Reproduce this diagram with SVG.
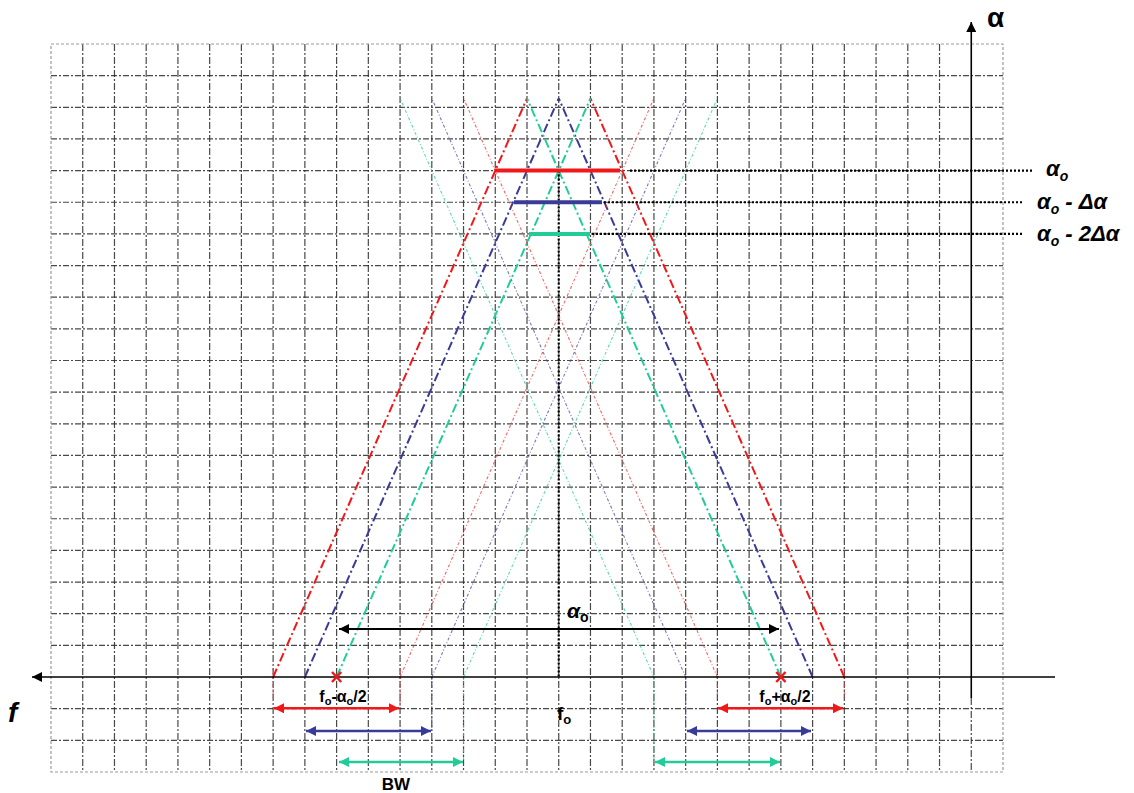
<svg xmlns="http://www.w3.org/2000/svg" width="1134" height="793" viewBox="0 0 1134 793">
<style>
.vg{stroke:#2a2a2a;stroke-width:1.2;stroke-dasharray:7 2 2 2;opacity:.85}
.hg{stroke:#2a2a2a;stroke-width:1.2;stroke-dasharray:6 2 2 2;opacity:.85}
.bd{stroke:#9a9a9a;stroke-width:1.2;stroke-dasharray:3 2;fill:none}
.axis{stroke:#000;stroke-width:1.6;fill:none}
.rb{stroke:#f01818;stroke-width:2;stroke-dasharray:9 3 2 3;fill:none}
.bb{stroke:#3a3a98;stroke-width:2;stroke-dasharray:9 3 2 3;fill:none}
.gb{stroke:#22cc99;stroke-width:2;stroke-dasharray:9 3 2 3;fill:none}
.rt{stroke:#f03030;stroke-width:1.1;stroke-dasharray:3 2 1 2;opacity:.75;fill:none}
.bt{stroke:#4a4aa8;stroke-width:1.1;stroke-dasharray:3 2 1 2;opacity:.75;fill:none}
.gt{stroke:#22cc99;stroke-width:1.1;stroke-dasharray:3 2 1 2;opacity:.75;fill:none}
.dot{stroke:#000;stroke-width:2.2;stroke-dasharray:2 2;fill:none}
.t{font-family:"Liberation Sans",Arial,sans-serif;font-weight:bold;fill:#000}
</style>
<defs>
<marker id="mk" viewBox="0 0 10 10" refX="10" refY="5" markerWidth="12" markerHeight="10" markerUnits="userSpaceOnUse" orient="auto-start-reverse"><path d="M0,0 L10,5 L0,10 z" fill="#000"/></marker>
<marker id="mr" viewBox="0 0 10 10" refX="10" refY="5" markerWidth="12" markerHeight="10" markerUnits="userSpaceOnUse" orient="auto-start-reverse"><path d="M0,0 L10,5 L0,10 z" fill="#f01818"/></marker>
<marker id="mb" viewBox="0 0 10 10" refX="10" refY="5" markerWidth="12" markerHeight="10" markerUnits="userSpaceOnUse" orient="auto-start-reverse"><path d="M0,0 L10,5 L0,10 z" fill="#3a3a98"/></marker>
<marker id="mg" viewBox="0 0 10 10" refX="10" refY="5" markerWidth="12" markerHeight="10" markerUnits="userSpaceOnUse" orient="auto-start-reverse"><path d="M0,0 L10,5 L0,10 z" fill="#22cc99"/></marker>
</defs>
<rect width="1134" height="793" fill="#fff"/>
<g id="grid">
<g class="vg">
<line x1="82.73" y1="44" x2="82.73" y2="772"/>
<line x1="114.47" y1="44" x2="114.47" y2="772"/>
<line x1="146.2" y1="44" x2="146.2" y2="772"/>
<line x1="177.93" y1="44" x2="177.93" y2="772"/>
<line x1="209.67" y1="44" x2="209.67" y2="772"/>
<line x1="241.4" y1="44" x2="241.4" y2="772"/>
<line x1="273.13" y1="44" x2="273.13" y2="772"/>
<line x1="304.87" y1="44" x2="304.87" y2="772"/>
<line x1="336.6" y1="44" x2="336.6" y2="772"/>
<line x1="368.33" y1="44" x2="368.33" y2="772"/>
<line x1="400.07" y1="44" x2="400.07" y2="772"/>
<line x1="431.8" y1="44" x2="431.8" y2="772"/>
<line x1="463.53" y1="44" x2="463.53" y2="772"/>
<line x1="495.27" y1="44" x2="495.27" y2="772"/>
<line x1="527" y1="44" x2="527" y2="772"/>
<line x1="558.73" y1="44" x2="558.73" y2="772"/>
<line x1="590.47" y1="44" x2="590.47" y2="772"/>
<line x1="622.2" y1="44" x2="622.2" y2="772"/>
<line x1="653.93" y1="44" x2="653.93" y2="772"/>
<line x1="685.67" y1="44" x2="685.67" y2="772"/>
<line x1="717.4" y1="44" x2="717.4" y2="772"/>
<line x1="749.13" y1="44" x2="749.13" y2="772"/>
<line x1="780.87" y1="44" x2="780.87" y2="772"/>
<line x1="812.6" y1="44" x2="812.6" y2="772"/>
<line x1="844.33" y1="44" x2="844.33" y2="772"/>
<line x1="876.07" y1="44" x2="876.07" y2="772"/>
<line x1="907.8" y1="44" x2="907.8" y2="772"/>
<line x1="939.53" y1="44" x2="939.53" y2="772"/>
<line x1="971.27" y1="698" x2="971.27" y2="772"/>
</g>
<g class="hg">
<line x1="51" y1="75.65" x2="1003" y2="75.65"/>
<line x1="51" y1="107.3" x2="1003" y2="107.3"/>
<line x1="51" y1="138.95" x2="1003" y2="138.95"/>
<line x1="51" y1="170.6" x2="1003" y2="170.6"/>
<line x1="51" y1="202.25" x2="1003" y2="202.25"/>
<line x1="51" y1="233.9" x2="1003" y2="233.9"/>
<line x1="51" y1="265.55" x2="1003" y2="265.55"/>
<line x1="51" y1="297.2" x2="1003" y2="297.2"/>
<line x1="51" y1="328.85" x2="1003" y2="328.85"/>
<line x1="51" y1="360.5" x2="1003" y2="360.5"/>
<line x1="51" y1="392.15" x2="1003" y2="392.15"/>
<line x1="51" y1="423.8" x2="1003" y2="423.8"/>
<line x1="51" y1="455.45" x2="1003" y2="455.45"/>
<line x1="51" y1="487.1" x2="1003" y2="487.1"/>
<line x1="51" y1="518.75" x2="1003" y2="518.75"/>
<line x1="51" y1="550.4" x2="1003" y2="550.4"/>
<line x1="51" y1="582.05" x2="1003" y2="582.05"/>
<line x1="51" y1="613.7" x2="1003" y2="613.7"/>
<line x1="51" y1="645.35" x2="1003" y2="645.35"/>
<line x1="51" y1="708.65" x2="1003" y2="708.65"/>
<line x1="51" y1="740.3" x2="1003" y2="740.3"/>
</g>
<rect class="bd" x="51" y="44" width="952" height="728"/>
</g>
<g id="connectors">
<line class="rb" x1="273.13" y1="677" x2="527" y2="98.3"/>
<line class="rb" x1="844.33" y1="677" x2="590.47" y2="98.3"/>
<line class="bb" x1="304.87" y1="677" x2="558.73" y2="98.3"/>
<line class="bb" x1="812.6" y1="677" x2="558.73" y2="98.3"/>
<line class="gb" x1="336.6" y1="677" x2="590.47" y2="98.3"/>
<line class="gb" x1="780.87" y1="677" x2="527" y2="98.3"/>
<line class="rt" x1="400.07" y1="677" x2="653.93" y2="98.3"/>
<line class="rt" x1="717.4" y1="677" x2="463.53" y2="98.3"/>
<line class="bt" x1="431.8" y1="677" x2="685.67" y2="98.3"/>
<line class="bt" x1="685.67" y1="677" x2="431.8" y2="98.3"/>
<line class="gt" x1="463.53" y1="677" x2="717.4" y2="98.3"/>
<line class="gt" x1="653.93" y1="677" x2="400.07" y2="98.3"/>
<line class="rt" x1="273.13" y1="668" x2="273.13" y2="700"/>
<line class="rt" x1="400.07" y1="668" x2="400.07" y2="708"/>
<line class="bt" x1="431.8" y1="677" x2="431.8" y2="731"/>
<line class="gt" x1="463.53" y1="677" x2="463.53" y2="762"/>
<line class="rt" x1="717.4" y1="660" x2="717.4" y2="700"/>
<line class="rt" x1="844.33" y1="668" x2="844.33" y2="700"/>
<line class="bt" x1="685.67" y1="677" x2="685.67" y2="731"/>
<line class="gt" x1="653.93" y1="677" x2="653.93" y2="762"/>
<line class="dot" x1="558.73" y1="170.6" x2="558.73" y2="677"/>
<line x1="494.5" y1="170.6" x2="620" y2="170.6" stroke="#f01818" stroke-width="4"/>
<line x1="514" y1="202.25" x2="602" y2="202.25" stroke="#3a3a98" stroke-width="4"/>
<line x1="529" y1="233.9" x2="590" y2="233.9" stroke="#22cc99" stroke-width="4"/>
<line class="dot" x1="630" y1="170.6" x2="1034" y2="170.6" stroke-width="2"/>
<line class="dot" x1="604" y1="202.25" x2="1022" y2="202.25" stroke-width="2"/>
<line class="dot" x1="592" y1="233.9" x2="1022" y2="233.9" stroke-width="2"/>
<line class="axis" x1="1055" y1="677" x2="32" y2="677" marker-end="url(#mk)"/>
<line class="axis" x1="971.27" y1="698" x2="971.27" y2="22" marker-end="url(#mk)"/>
<line x1="339" y1="629" x2="779" y2="629" stroke="#000" stroke-width="2" marker-start="url(#mk)" marker-end="url(#mk)"/>
<line x1="274" y1="708.3" x2="399" y2="708.3" stroke="#f01818" stroke-width="2.5" marker-start="url(#mr)" marker-end="url(#mr)"/>
<line x1="306" y1="731" x2="431" y2="731" stroke="#3a3a98" stroke-width="2.5" marker-start="url(#mb)" marker-end="url(#mb)"/>
<line x1="339" y1="762" x2="463" y2="762" stroke="#22cc99" stroke-width="2.5" marker-start="url(#mg)" marker-end="url(#mg)"/>
<line x1="718" y1="708.3" x2="843" y2="708.3" stroke="#f01818" stroke-width="2.5" marker-start="url(#mr)" marker-end="url(#mr)"/>
<line x1="687" y1="731" x2="811" y2="731" stroke="#3a3a98" stroke-width="2.5" marker-start="url(#mb)" marker-end="url(#mb)"/>
<line x1="655" y1="762" x2="780" y2="762" stroke="#22cc99" stroke-width="2.5" marker-start="url(#mg)" marker-end="url(#mg)"/>
<path d="M332,672 L341.2,682 M341.2,672 L332,682" stroke="#f01818" stroke-width="2.5"/>
<path d="M776.3,672 L785.5,682 M785.5,672 L776.3,682" stroke="#f01818" stroke-width="2.5"/>
</g>
<g id="labels">
<text class="t" x="987" y="27" font-size="28">α</text>
<text class="t" x="8" y="722" font-size="28" font-style="italic">f</text>
<text class="t" x="557" y="720" font-size="19">f<tspan font-size="13" dy="4">o</tspan></text>
<text class="t" x="567" y="618" font-size="21" font-style="italic">α<tspan font-size="14" dy="4" font-style="normal">o</tspan></text>
<text class="t" x="396" y="790" font-size="17" text-anchor="middle">BW</text>
<text class="t" x="343" y="702" font-size="16" text-anchor="middle">f<tspan font-size="11" dy="3">o</tspan><tspan dy="-3">-α</tspan><tspan font-size="11" dy="3">o</tspan><tspan dy="-3">/2</tspan></text>
<text class="t" x="785" y="702" font-size="16" text-anchor="middle">f<tspan font-size="11" dy="3">o</tspan><tspan dy="-3">+α</tspan><tspan font-size="11" dy="3">o</tspan><tspan dy="-3">/2</tspan></text>
<text class="t" x="1046" y="176" font-size="22" font-style="italic">α<tspan font-size="14" dy="5">o</tspan></text>
<text class="t" x="1037" y="209" font-size="22" font-style="italic">α<tspan font-size="14" dy="5">o</tspan><tspan dy="-5"> - Δα</tspan></text>
<text class="t" x="1037" y="241" font-size="22" font-style="italic">α<tspan font-size="14" dy="5">o</tspan><tspan dy="-5"> - 2Δα</tspan></text>
</g>
</svg>
